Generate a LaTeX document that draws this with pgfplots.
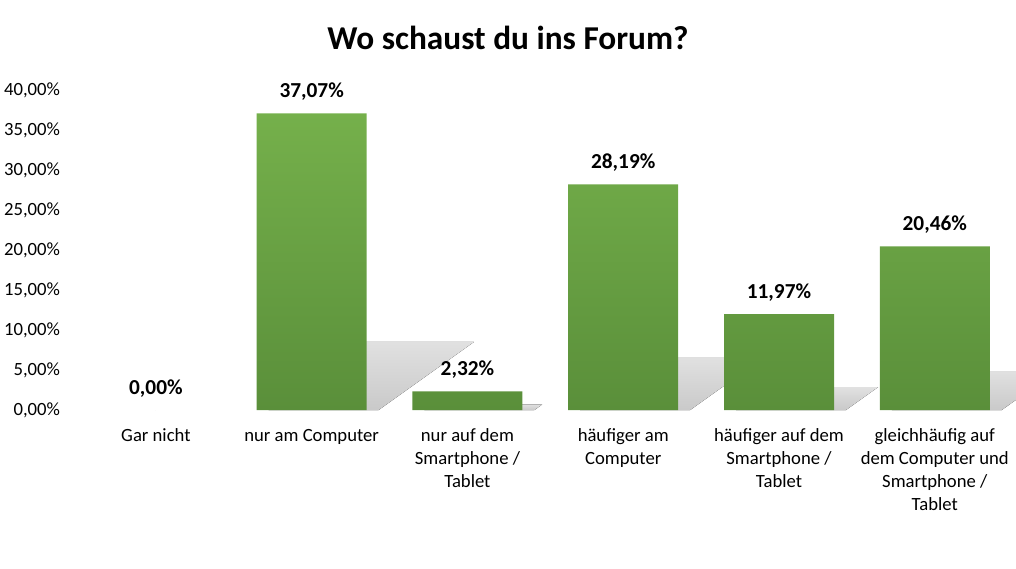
\documentclass[border=0pt]{standalone}
\usepackage{fontspec}
\setmainfont{Carlito}
\usepackage{pgfplots}
\pgfplotsset{compat=1.18}
\usepackage{pgfplotstable}

\definecolor{barTop}{HTML}{75B04B}
\definecolor{barBot}{HTML}{5A8F3A}

% Anteile in Prozent
\pgfplotstableread{
x v
0 0
1 37.07
2 2.32
3 28.19
4 11.97
5 20.46
}\forum

\begin{document}
\begin{tikzpicture}
\useasboundingbox (-58.5pt,-118.5pt) rectangle (703.5pt,307.5pt);
\begin{axis}[
    at={(0pt,0pt)}, anchor=south west,
    scale only axis, width=701pt, height=240pt,
    xmin=-0.5, xmax=5.5, ymin=0, ymax=40,
    clip=false, clip marker paths=true,
    axis line style={draw=none},
    tick style={draw=none},
    xtick={0,...,5},
    xticklabels={Gar nicht, nur am Computer, {nur auf dem\\Smartphone /\\Tablet},
        {häufiger am\\Computer}, {häufiger auf dem\\Smartphone /\\Tablet},
        {gleichhäufig auf\\dem Computer und\\Smartphone /\\Tablet}},
    ytick={0,5,...,40},
    yticklabel={\pgfmathprintnumber[fixed,fixed zerofill,precision=2,use comma]{\tick}\%},
    /pgf/number format/assume math mode=true,
    tick label style={font=\fontsize{14}{17.25}\selectfont},
    xticklabel style={align=center, anchor=north, yshift=-10pt,
        execute at begin node=\vphantom{h}},
    yticklabel style={anchor=east, xshift=-10pt},
]
% Schatten hinter den Balken (Marke sitzt oben auf dem Balken)
\addplot[only marks, scatter, mark=*, mark size=0pt,
    mark options={draw=none, fill=none},
    visualization depends on={rawy \as \val},
    scatter/@pre marker code/.code={%
        \pgfmathsetmacro\hs{1.35*\val+1}%
        \pgfmathsetmacro\yb{-6*\val}%
        \pgfmathsetmacro\yt{\yb+\hs}%
        \pgfmathsetmacro\xs{1.4*\hs}%
        \ifdim\val pt>0.5pt
        \fill[draw=none, top color=black!12, middle color=black!19, bottom color=black!21]
            (-32.25pt,\yb pt) -- (50.25pt,\yb pt) -- ({(50.25+\xs)*1pt},\yt pt)
            -- ({(-32.25+\xs)*1pt},\yt pt) -- cycle;
        \fi
    },
    scatter/@post marker code/.code={},
] table[x=x, y=v] {\forum};

% Balken (0 wird nicht gezeichnet)
\addplot[ybar, bar width=82.5pt, draw=none, top color=barTop, bottom color=barBot,
    unbounded coords=discard, y filter/.expression={y==0 ? nan : y},
] table[x=x, y=v] {\forum};

% Datenbeschriftungen
\addplot[draw=none, mark=none,
    nodes near coords={\pgfmathprintnumber[fixed,fixed zerofill,precision=2,use comma]{\pgfplotspointmeta}\%},
    every node near coord/.append style={black, anchor=south, yshift=6pt,
        font=\bfseries\fontsize{16}{19}\selectfont},
] table[x=x, y=v] {\forum};
\end{axis}
\node[anchor=base, font=\bfseries\fontsize{25}{30}\selectfont] at (322.5pt,270pt) {Wo schaust du ins Forum?};
\end{tikzpicture}
\end{document}
